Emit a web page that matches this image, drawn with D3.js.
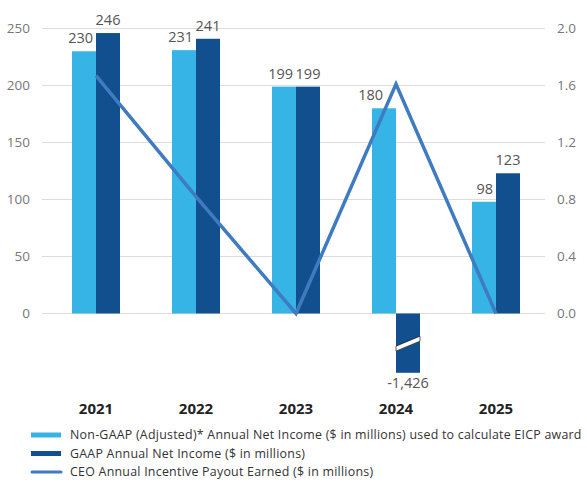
<!DOCTYPE html>
<html>
<head>
<meta charset="utf-8">
<script src="https://cdn.jsdelivr.net/npm/d3@7"></script>
<style>
  html, body { margin: 0; padding: 0; background: #fff; }
  svg { display: block; font-family: "Open Sans", sans-serif; }
</style>
</head>
<body>
<div id="chart"></div>
<script>
// data
const years = ['2021', '2022', '2023', '2024', '2025'];
const nonGaap = [230, 231, 199, 180, 98];
const gaap = [246, 241, 199, -1426, 123];
const ceoPayout = [1.67, 0.82, 0, 1.61, 0];
const leftTicks = [0, 50, 100, 150, 200, 250];
const rightTicks = [0, 0.4, 0.8, 1.2, 1.6, 2.0];
const legendLabels = [
  'Non-GAAP (Adjusted)* Annual Net Income ($ in millions) used to calculate EICP award',
  'GAAP Annual Net Income ($ in millions)',
  'CEO Annual Incentive Payout Earned ($ in millions)'
];

const width = 587, height = 486;
const colors = { light: '#36b4e5', dark: '#124f8e', line: '#3f7bc1', grid: '#dcdcdc' };
const breakFloor = -52; // negative bars are drawn broken at this depth

const svg = d3.select('#chart').append('svg')
  .attr('width', width).attr('height', height);

// 1. scales
const x0 = d3.scaleBand().domain(years).range([46, 546])
  .paddingInner(0.52).paddingOuter(0.26);
const x1 = d3.scaleBand().domain(['light', 'dark']).range([0, x0.bandwidth()]);
const y = d3.scaleLinear().domain([0, 250]).range([313.5, 28.5]);
const y2 = d3.scaleLinear().domain([0, 2]).range([313.5, 28.5]);

// 2. gridlines + axes
svg.append('g').selectAll('line').data(leftTicks).join('line')
  .attr('x1', 42).attr('x2', 545)
  .attr('y1', d => y(d)).attr('y2', d => y(d))
  .attr('stroke', colors.grid).attr('stroke-width', 1);

svg.append('g').selectAll('text').data(leftTicks).join('text')
  .attr('x', 30).attr('y', d => y(d)).attr('dy', '0.35em')
  .attr('text-anchor', 'end').attr('fill', '#777').style('font-size', '13.5px')
  .text(d => d);

svg.append('g').selectAll('text').data(rightTicks).join('text')
  .attr('x', 557).attr('y', d => y2(d)).attr('dy', '0.35em')
  .attr('fill', '#777').style('font-size', '13.5px')
  .text(d => d3.format('.1f')(d));

svg.append('g').selectAll('text').data(years).join('text')
  .attr('x', d => x0(d) + x0.bandwidth() / 2).attr('y', 414)
  .attr('text-anchor', 'middle').attr('fill', '#222')
  .style('font-size', '15px').style('font-weight', 'bold')
  .text(d => d);

// 3. bars
const bars = years.flatMap((yr, i) => [
  { yr, key: 'light', v: nonGaap[i] },
  { yr, key: 'dark', v: gaap[i] }
]);
const shown = v => Math.max(v, breakFloor);

svg.append('g').selectAll('rect').data(bars).join('rect')
  .attr('x', d => x0(d.yr) + x1(d.key))
  .attr('width', x1.bandwidth())
  .attr('y', d => Math.min(y(0), y(shown(d.v))))
  .attr('height', d => Math.abs(y(0) - y(shown(d.v))))
  .attr('fill', d => colors[d.key]);

// break marks on clipped bars
bars.filter(d => d.v < breakFloor).forEach(d => {
  const bx = x0(d.yr) + x1(d.key), bw = x1.bandwidth();
  const mid = y(breakFloor / 2) - 3;
  svg.append('path')
    .attr('d', `M${bx},${mid + 6} L${bx + bw},${mid - 4} L${bx + bw},${mid + 1} L${bx},${mid + 11} Z`)
    .attr('fill', '#fff').attr('stroke', '#1a1a1a').attr('stroke-width', 0.7);
});

// 4. value labels (light ones sit to the left so the pair doesn't collide)
const fmt = v => d3.format(',')(v).replace('\u2212', '-');
const nudge = { '2024': -10 }; // keep 180 clear of the payout line
svg.append('g').selectAll('text').data(bars).join('text')
  .attr('x', d => d.key === 'light'
    ? x0(d.yr) + x1(d.key) + x1.bandwidth() - 3 + (nudge[d.yr] || 0)
    : x0(d.yr) + x1(d.key) + x1.bandwidth() / 2)
  .attr('y', d => d.v >= 0 ? y(d.v) - 8 : y(shown(d.v)) + 15)
  .attr('text-anchor', d => d.key === 'light' ? 'end' : 'middle')
  .attr('fill', '#555')
  .style('font-size', '14.5px')
  .text(d => fmt(d.v));

// 5. CEO payout line
const line = d3.line()
  .x((d, i) => x0(years[i]) + x0.bandwidth() / 2)
  .y(d => y2(d));
svg.append('path').datum(ceoPayout)
  .attr('d', line)
  .attr('fill', 'none').attr('stroke', colors.line)
  .attr('stroke-width', 3.5).attr('stroke-linejoin', 'miter');

// 6. legend
const legend = svg.append('g');
legendLabels.forEach((label, i) => {
  const ly = 435 + i * 18.5;
  if (i < 2) {
    legend.append('rect').attr('x', 31).attr('y', ly - 2.5).attr('width', 30).attr('height', 5)
      .attr('fill', i === 0 ? colors.light : colors.dark);
  } else {
    legend.append('line').attr('x1', 32).attr('x2', 61).attr('y1', ly).attr('y2', ly)
      .attr('stroke', colors.line).attr('stroke-width', 3).attr('stroke-linecap', 'round');
  }
  legend.append('text').attr('x', 70).attr('y', ly).attr('dy', '0.35em')
    .attr('fill', '#333').style('font-size', '12.4px').style('letter-spacing', '0.25px')
    .text(label);
});
</script>
</body>
</html>
